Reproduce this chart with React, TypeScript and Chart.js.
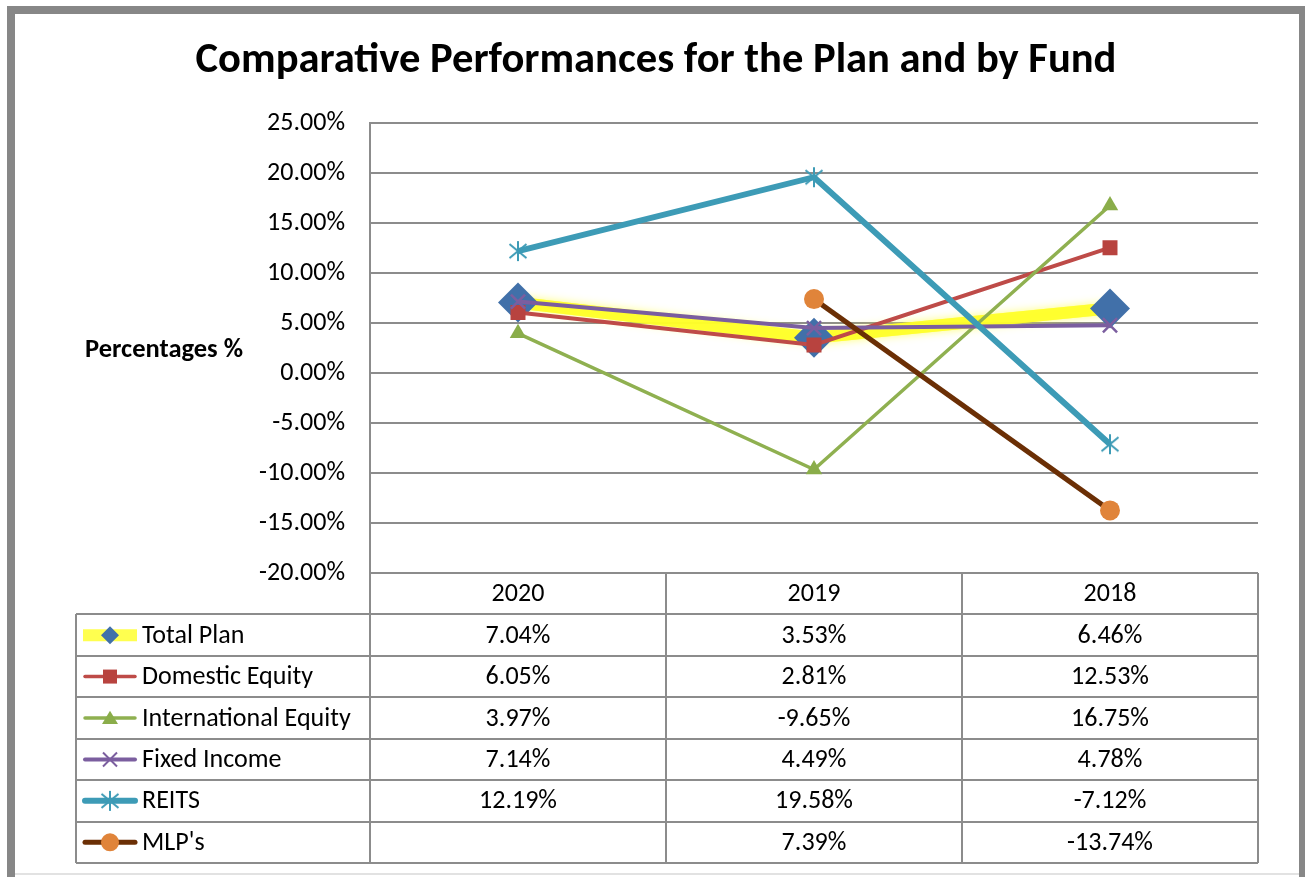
import React, { useEffect, useRef } from 'react';
import { Chart, registerables } from 'chart.js';

Chart.register(...registerables);

// ---------- data ----------
const years = ['2020', '2019', '2018'];
const seriesNames = ['Total Plan', 'Domestic Equity', 'International Equity', 'Fixed Income', 'REITS', "MLP's"];
const totalPlan: (number | null)[] = [7.04, 3.53, 6.46];
const domesticEquity: (number | null)[] = [6.05, 2.81, 12.53];
const internationalEquity: (number | null)[] = [3.97, -9.65, 16.75];
const fixedIncome: (number | null)[] = [7.14, 4.49, 4.78];
const reits: (number | null)[] = [12.19, 19.58, -7.12];
const mlps: (number | null)[] = [null, 7.39, -13.74];
const yTickMin = -20;
const yTickMax = 25;
const yTickStep = 5;
const chartTitle = 'Comparative Performances for the Plan and by Fund';
const yAxisTitle = 'Percentages %';

const seriesValues = [totalPlan, domesticEquity, internationalEquity, fixedIncome, reits, mlps];

// ---------- styles ----------
const FONT = 'Carlito, Lato, sans-serif';
const GRID = '#8c8c8c';

type Style = {
  line: string;
  lineWidth: number;
  marker: 'diamond' | 'square' | 'triangle' | 'x' | 'asterisk' | 'circle';
  markerColor: string;
  radius: number;
  legendLineWidth: number;
  legendSize: number;
};

const styles: Style[] = [
  { line: 'rgba(255,255,40,0.75)', lineWidth: 12, marker: 'diamond', markerColor: '#4170a9', radius: 20, legendLineWidth: 12, legendSize: 9 },
  { line: '#be4b48', lineWidth: 4, marker: 'square', markerColor: '#b8433f', radius: 10.6, legendLineWidth: 3.5, legendSize: 7 },
  { line: '#8fb050', lineWidth: 3.5, marker: 'triangle', markerColor: '#8aad4a', radius: 9.5, legendLineWidth: 3.5, legendSize: 8 },
  { line: '#7b5e9f', lineWidth: 4, marker: 'x', markerColor: '#7b5e9f', radius: 10, legendLineWidth: 4, legendSize: 7 },
  { line: '#3d9bb6', lineWidth: 6, marker: 'asterisk', markerColor: '#3d9bb6', radius: 10, legendLineWidth: 6, legendSize: 10 },
  { line: '#6b2f05', lineWidth: 5, marker: 'circle', markerColor: '#e0843a', radius: 10, legendLineWidth: 5, legendSize: 9 },
];

function makeAsterisk(color: string, size: number, lw: number) {
  const c = document.createElement('canvas');
  c.width = size;
  c.height = size;
  const g = c.getContext('2d')!;
  const m = size / 2;
  const h = size / 2 - 1;
  g.strokeStyle = color;
  g.lineWidth = lw;
  g.beginPath();
  g.moveTo(m, m - h);
  g.lineTo(m, m + h);
  g.moveTo(m - h * 0.85, m - h * 0.7);
  g.lineTo(m + h * 0.85, m + h * 0.7);
  g.moveTo(m + h * 0.85, m - h * 0.7);
  g.lineTo(m - h * 0.85, m + h * 0.7);
  g.stroke();
  return c;
}

function drawMarker(ctx: CanvasRenderingContext2D, st: Style, x: number, y: number, s: number) {
  ctx.save();
  ctx.fillStyle = st.markerColor;
  ctx.strokeStyle = st.markerColor;
  ctx.beginPath();
  switch (st.marker) {
    case 'diamond':
      ctx.moveTo(x, y - s);
      ctx.lineTo(x + s, y);
      ctx.lineTo(x, y + s);
      ctx.lineTo(x - s, y);
      ctx.closePath();
      ctx.fill();
      break;
    case 'square':
      ctx.fillRect(x - s, y - s, 2 * s, 2 * s);
      break;
    case 'triangle':
      ctx.moveTo(x, y - s * 0.9);
      ctx.lineTo(x + s, y + s * 0.75);
      ctx.lineTo(x - s, y + s * 0.75);
      ctx.closePath();
      ctx.fill();
      break;
    case 'x':
      ctx.lineWidth = 2;
      ctx.moveTo(x - s, y - s);
      ctx.lineTo(x + s, y + s);
      ctx.moveTo(x + s, y - s);
      ctx.lineTo(x - s, y + s);
      ctx.stroke();
      break;
    case 'asterisk': {
      const img = makeAsterisk(st.markerColor, Math.round(s * 2 + 2), 2);
      ctx.drawImage(img, x - img.width / 2, y - img.height / 2);
      break;
    }
    case 'circle':
      ctx.arc(x, y, s, 0, Math.PI * 2);
      ctx.fill();
      break;
  }
  ctx.restore();
}

export default function App() {
  const ref = useRef<HTMLCanvasElement | null>(null);

  useEffect(() => {
    const canvas = ref.current;
    if (!canvas) return;

    const mctx = document.createElement('canvas').getContext('2d')!;
    const fit = (text: string, weight: string, target: number) => {
      mctx.font = `${weight} 100px ${FONT}`;
      return (100 * target) / mctx.measureText(text).width;
    };
    const tickSize = fit('25.00%', 'normal', 78);
    const titleSize = fit(chartTitle, 'bold', 921);
    const axisTitleSize = fit(yAxisTitle, 'bold', 158);

    const asteriskImg = makeAsterisk(styles[4].markerColor, 22, 2);

    const pointStyleFor = (st: Style): any => {
      switch (st.marker) {
        case 'diamond': return 'rectRot';
        case 'square': return 'rect';
        case 'triangle': return 'triangle';
        case 'x': return 'crossRot';
        case 'asterisk': return asteriskImg;
        default: return 'circle';
      }
    };

    const datasets = seriesNames.map((name, i) => {
      const st = styles[i];
      return {
        label: name,
        data: seriesValues[i],
        borderColor: st.line,
        borderWidth: st.lineWidth,
        backgroundColor: st.markerColor,
        pointBackgroundColor: st.markerColor,
        pointBorderColor: st.markerColor,
        pointBorderWidth: st.marker === 'x' ? 2.5 : 0,
        pointStyle: pointStyleFor(st),
        pointRadius: st.radius,
        pointHoverRadius: st.radius,
        tension: 0,
        spanGaps: false,
        fill: false,
        order: seriesNames.length - i,
      };
    });

    const decor = {
      id: 'decor',
      beforeDatasetDraw(chart: any, args: any) {
        if (args.index !== 0) return;
        const ctx = chart.ctx;
        ctx.save();
        ctx.shadowColor = 'rgba(255,255,60,0.9)';
        ctx.shadowBlur = 8;
        args.meta.dataset.draw(ctx, chart.chartArea);
        ctx.restore();
      },
      afterDraw(chart: any) {
        const ctx: CanvasRenderingContext2D = chart.ctx;
        const ca = chart.chartArea;
        ctx.save();

        // title
        ctx.fillStyle = '#000';
        ctx.textAlign = 'center';
        ctx.textBaseline = 'alphabetic';
        ctx.font = `bold ${titleSize}px ${FONT}`;
        ctx.fillText(chartTitle, 656, 72);

        // y axis title
        ctx.textAlign = 'left';
        ctx.font = `bold ${axisTitleSize}px ${FONT}`;
        ctx.fillText(yAxisTitle, 85, 357);

        // data table
        const tableLeft = 76;
        const rows = seriesNames.length + 1;
        const rowH = (863 - ca.bottom) / rows;
        const colW = (ca.right - ca.left) / years.length;
        const tableBottom = ca.bottom + rows * rowH;

        ctx.strokeStyle = GRID;
        ctx.lineWidth = 2;
        ctx.beginPath();
        for (let k = 1; k <= rows; k++) {
          const y = Math.round(ca.bottom + k * rowH);
          ctx.moveTo(tableLeft, y);
          ctx.lineTo(ca.right, y);
        }
        ctx.moveTo(tableLeft, Math.round(ca.bottom + rowH));
        ctx.lineTo(tableLeft, tableBottom);
        for (let c = 0; c <= years.length; c++) {
          const x = Math.round(ca.left + c * colW);
          ctx.moveTo(x, ca.bottom);
          ctx.lineTo(x, tableBottom);
        }
        ctx.stroke();

        ctx.fillStyle = '#000';
        ctx.font = `${tickSize}px ${FONT}`;
        ctx.textBaseline = 'middle';
        ctx.textAlign = 'center';
        years.forEach((yr, c) => {
          ctx.fillText(yr, ca.left + (c + 0.5) * colW, ca.bottom + rowH / 2 + 1);
        });
        seriesNames.forEach((name, i) => {
          const cy = ca.bottom + (i + 1.5) * rowH + 1;
          ctx.textAlign = 'center';
          seriesValues[i].forEach((v, c) => {
            if (v === null || v === undefined) return;
            ctx.fillText(v.toFixed(2) + '%', ca.left + (c + 0.5) * colW, cy);
          });
          ctx.textAlign = 'left';
          ctx.fillText(name, 142, cy);

          // legend key
          const st = styles[i];
          const ky = cy - 1;
          ctx.save();
          ctx.strokeStyle = i === 0 ? 'rgba(255,255,60,0.9)' : st.line;
          ctx.lineWidth = st.legendLineWidth;
          ctx.lineCap = i === 0 ? 'butt' : 'round';
          ctx.beginPath();
          ctx.moveTo(i === 0 ? 83 : 85, ky);
          ctx.lineTo(i === 0 ? 137 : 135, ky);
          ctx.stroke();
          ctx.restore();
          drawMarker(ctx, st, 110, ky, st.legendSize);
        });

        // outer frame
        ctx.strokeStyle = '#878787';
        ctx.lineWidth = 8;
        ctx.strokeRect(11, 10, 1292, 871);
        ctx.strokeStyle = '#e2e2e2';
        ctx.lineWidth = 2;
        ctx.beginPath();
        ctx.moveTo(15, 874);
        ctx.lineTo(1299, 874);
        ctx.stroke();

        ctx.restore();
      },
    };

    const chart = new Chart(canvas, {
      type: 'line',
      data: { labels: years, datasets: datasets as any },
      options: {
        responsive: false,
        animation: false,
        devicePixelRatio: 1,
        layout: { padding: { top: 123, bottom: 304, right: 47, left: 0 } },
        plugins: {
          legend: { display: false },
          title: { display: false },
          tooltip: { enabled: false },
        },
        events: [],
        scales: {
          x: { type: 'category', offset: true, display: false },
          y: {
            min: yTickMin,
            max: yTickMax,
            ticks: {
              stepSize: yTickStep,
              callback: (v: any) => Number(v).toFixed(2) + '%',
              color: '#000',
              font: { family: FONT, size: tickSize },
              padding: 25,
            },
            grid: { color: GRID, lineWidth: 2, drawTicks: false },
            border: { color: GRID, width: 2 },
            afterFit: (s: any) => {
              s.width = 370;
            },
          },
        },
      } as any,
      plugins: [decor],
    });

    return () => chart.destroy();
  }, []);

  return (
    <div style={{ position: 'absolute', left: 0, top: 0, width: 1305, height: 877, background: '#fff' }}>
      <canvas ref={ref} width={1305} height={877} style={{ display: 'block', width: 1305, height: 877 }} />
    </div>
  );
}
